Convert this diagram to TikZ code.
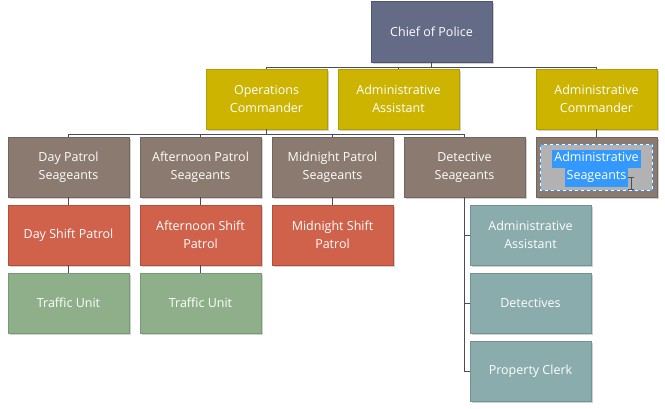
\documentclass[tikz,border=0pt]{standalone}
\usepackage{fontspec}
\setmainfont{Open Sans}
\usetikzlibrary{shadows}
\definecolor{cChief}{HTML}{636B86}\definecolor{bChief}{HTML}{4F566E}
\definecolor{cYel}{HTML}{CCB400}\definecolor{bYel}{HTML}{B39E00}
\definecolor{cBrn}{HTML}{8B7A6F}\definecolor{bBrn}{HTML}{74655B}
\definecolor{cRed}{HTML}{D0614A}\definecolor{bRed}{HTML}{B54F3A}
\definecolor{cGrn}{HTML}{8FAF8B}\definecolor{bGrn}{HTML}{779973}
\definecolor{cTeal}{HTML}{8AACAC}\definecolor{bTeal}{HTML}{719393}
\definecolor{cLine}{HTML}{474D5C}
\definecolor{cSel}{HTML}{3399FF}
\tikzset{
  box/.style={rectangle, minimum width=121pt, minimum height=60pt, inner sep=2pt,
    align=center, text=white, font=\fontsize{12.5}{18}\selectfont, line width=0.8pt,
    drop shadow={shadow xshift=2pt, shadow yshift=-2pt, opacity=0.18, fill=black}},
  chiefbox/.style={box, fill=cChief, draw=bChief, minimum height=61pt},
  yelbox/.style={box, fill=cYel, draw=bYel},
  brnbox/.style={box, fill=cBrn, draw=bBrn},
  redbox/.style={box, fill=cRed, draw=bRed},
  grnbox/.style={box, fill=cGrn, draw=bGrn},
  tealbox/.style={box, fill=cTeal, draw=bTeal},
  link/.style={draw=cLine, line width=0.7pt},
  txt/.style={align=center, text=white, font=\fontsize{12.5}{18}\selectfont, inner sep=0pt},
}
\begin{document}
\begin{tikzpicture}[x=1pt, y=-1pt]
\useasboundingbox (0,0) rectangle (665,409);
\fill[white] (0,0) rectangle (665,409);
% nodes
\node[chiefbox] (chief) at (431.5,31.5) {Chief of Police};
\node[yelbox] (ops) at (266.5,99) {Operations\\Commander};
\node[yelbox] (aa) at (398.5,99) {Administrative\\Assistant};
\node[yelbox] (ac) at (596.5,99) {Administrative\\Commander};
\node[brnbox] (dps) at (68.5,167) {Day Patrol\\Seageants};
\node[brnbox] (aps) at (200.5,167) {Afternoon Patrol\\Seageants};
\node[brnbox] (mps) at (332.5,167) {Midnight Patrol\\Seageants};
\node[brnbox] (ds) at (464.5,167) {Detective\\Seageants};
\node[brnbox] (as) at (596.5,167) {};
\node[redbox] (dsp) at (68.5,235) {Day Shift Patrol};
\node[redbox] (asp) at (200.5,235) {Afternoon Shift\\Patrol};
\node[redbox] (msp) at (332.5,235) {Midnight Shift\\Patrol};
\node[grnbox] (tu1) at (68.5,303) {Traffic Unit};
\node[grnbox] (tu2) at (200.5,303) {Traffic Unit};
\node[tealbox] (daa) at (530.5,235) {Administrative\\Assistant};
\node[tealbox] (det) at (530.5,303) {Detectives};
\node[tealbox] (pc) at (530.5,371) {Property Clerk};
% selection look on Administrative Seageants
\fill[gray!60] (540,144) rectangle (652,190);
\draw[white, line width=0.8pt] (540,144) rectangle (652,190);
\draw[cSel, line width=0.8pt, dash pattern=on 3pt off 3pt] (540,144) rectangle (652,190);
\fill[cSel] (552,150) rectangle (641,168);
\fill[cSel] (565,168) rectangle (628,187);
\node[txt] (astxt) at (as.center) {Administrative\\Seageants};
\draw[cLine, line width=0.6pt] (628,177) -- (634,177) (631,177) -- (631,189) (628,189) -- (634,189);
% connectors
\draw[link] (chief.south) -- ++(0,5) -| (ops.north);
\draw[link] (chief.south) -- ++(0,5) -| (aa.north);
\draw[link] (chief.south) -- ++(0,5) -| (ac.north);
\draw[link] (ops.south) -- ++(0,5) -| (dps.north);
\draw[link] (ops.south) -- ++(0,5) -| (aps.north);
\draw[link] (ops.south) -- ++(0,5) -| (mps.north);
\draw[link] (ops.south) -- ++(0,5) -| (ds.north);
\draw[link] (ac.south) -- (as.north);
\draw[link] (dps.south) -- (dsp.north);
\draw[link] (dsp.south) -- (tu1.north);
\draw[link] (aps.south) -- (asp.north);
\draw[link] (asp.south) -- (tu2.north);
\draw[link] (mps.south) -- (msp.north);
\draw[link] (ds.south) |- (daa.west);
\draw[link] (ds.south) |- (det.west);
\draw[link] (ds.south) |- (pc.west);
\end{tikzpicture}
\end{document}
